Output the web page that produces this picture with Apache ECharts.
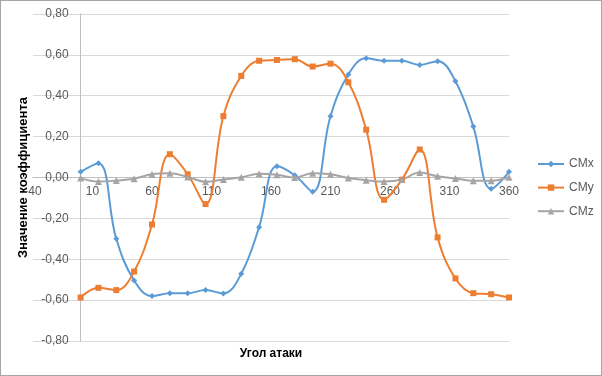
<!DOCTYPE html>
<html>
<head>
<meta charset="utf-8">
<script src="https://cdn.jsdelivr.net/npm/echarts@6/dist/echarts.min.js"></script>
<style>
  body { margin: 0; background: #fff; }
  #chart { width: 600px; height: 374px; border: 1px solid #a6a6a6; }
</style>
</head>
<body>
<div id="chart"></div>
<script>
// углы атаки, град
var angles = [0, 15, 30, 45, 60, 75, 90, 105, 120, 135, 150, 165, 180,
              195, 210, 225, 240, 255, 270, 285, 300, 315, 330, 345, 360];

// коэффициенты моментов
var cmx = [0.028, 0.070, -0.300, -0.504, -0.580, -0.566, -0.566, -0.551, -0.567, -0.471,
           -0.243, 0.055, 0.011, -0.070, 0.300, 0.504, 0.583, 0.571, 0.571, 0.551,
           0.569, 0.471, 0.249, -0.055, 0.028];
var cmy = [-0.587, -0.540, -0.551, -0.460, -0.230, 0.114, 0.016, -0.130, 0.300, 0.497,
           0.571, 0.575, 0.579, 0.543, 0.557, 0.466, 0.234, -0.109, -0.011, 0.137,
           -0.293, -0.494, -0.566, -0.571, -0.587];
var cmz = [-0.003, -0.020, -0.015, -0.006, 0.016, 0.021, 0.003, -0.021, -0.010, 0.001,
           0.018, 0.013, 0.000, 0.021, 0.016, -0.002, -0.013, -0.020, -0.010, 0.024,
           0.006, -0.005, -0.016, -0.016, 0.001];

var xTicks = { min: -40, max: 360, step: 50 };
var yTicks = { min: -0.8, max: 0.8, step: 0.2 };

var colors = ['#5B9BD5', '#ED7D31', '#A5A5A5'];

function pairs(ys){
  var arr = [];
  for (var i = 0; i < angles.length; i++) {
    arr.push([angles[i], ys[i]]);
  }
  return arr;
}

// построитель серии
function create(name, ys, symbol, size){
  return {
    name: name,
    type: 'line',
    smooth: 0.4,
    data: pairs(ys),
    symbol: symbol,
    symbolSize: size,
    showAllSymbol: true,
    lineStyle: { width: 2 },
    emphasis: { disabled: true }
  };
}

// подписи осей проходят через ноль, поэтому рисуются отдельными сетками
var zeroX = 32 + (0 - xTicks.min) / (xTicks.max - xTicks.min) * 476;

var chart = echarts.init(document.getElementById('chart'));

var labelStyle = { color: '#595959', fontSize: 12 };

var option = {
  animation: false,
  color: colors,
  textStyle: { fontFamily: 'Liberation Sans, Arial, sans-serif' },
  grid: [
    { left: 32, width: 476, top: 13, bottom: 34, outerBoundsMode: 'none' },   // график
    { left: 32, width: 476, top: 13, height: 164, outerBoundsMode: 'none' },  // подписи X на нуле
    { left: zeroX, width: 508 - zeroX, top: 13, bottom: 34, outerBoundsMode: 'none' } // подписи Y на нуле
  ],
  legend: {
    orient: 'vertical',
    left: 536,
    top: 157,
    padding: 0,
    itemWidth: 26,
    itemHeight: 8,
    itemGap: 11.6,
    textStyle: { color: '#595959', fontSize: 12 },
    data: ['CMx', 'CMy', 'CMz']
  },
  xAxis: [{
    gridIndex: 0,
    type: 'value',
    min: xTicks.min, max: xTicks.max, interval: xTicks.step,
    axisLine: { onZero: true, lineStyle: { color: '#bfbfbf', width: 1 } },
    axisTick: { show: false },
    axisLabel: { show: false },
    splitLine: { show: false }
  }, {
    gridIndex: 1,
    type: 'value',
    min: xTicks.min, max: xTicks.max, interval: xTicks.step,
    name: 'Угол атаки',
    nameLocation: 'middle',
    nameGap: 170,
    nameTextStyle: { fontSize: 12, fontWeight: 'bold', color: '#000' },
    axisLine: { show: false, onZero: false },
    axisTick: { show: false },
    axisLabel: { color: labelStyle.color, fontSize: 12, margin: 8 },
    splitLine: { show: false }
  }, {
    gridIndex: 2,
    type: 'value',
    min: 0, max: xTicks.max,
    show: false
  }],
  yAxis: [{
    gridIndex: 0,
    type: 'value',
    min: yTicks.min, max: yTicks.max, interval: yTicks.step,
    axisLine: { show: true, onZero: true, lineStyle: { color: '#bfbfbf', width: 1 } },
    axisTick: { show: false },
    axisLabel: { show: false },
    splitLine: { show: true, lineStyle: { color: '#d9d9d9', width: 1 } }
  }, {
    gridIndex: 1,
    type: 'value',
    min: 0, max: yTicks.max,
    show: false
  }, {
    gridIndex: 2,
    type: 'value',
    min: yTicks.min, max: yTicks.max, interval: yTicks.step,
    name: 'Значение коэффициента',
    nameLocation: 'middle',
    nameGap: 48,
    nameTextStyle: { fontSize: 13, fontWeight: 'bold', color: '#000' },
    axisLine: { show: false, onZero: false },
    axisTick: { show: false },
    axisLabel: {
      color: labelStyle.color,
      fontSize: 12,
      margin: 12,
      formatter: function(v){ return v.toFixed(2).replace('.', ','); }
    },
    splitLine: { show: false }
  }],
  series: [
    create('CMx', cmx, 'diamond', 6),
    create('CMy', cmy, 'rect', 6),
    create('CMz', cmz, 'triangle', 7)
  ]
};

chart.setOption(option);
</script>
</body>
</html>
